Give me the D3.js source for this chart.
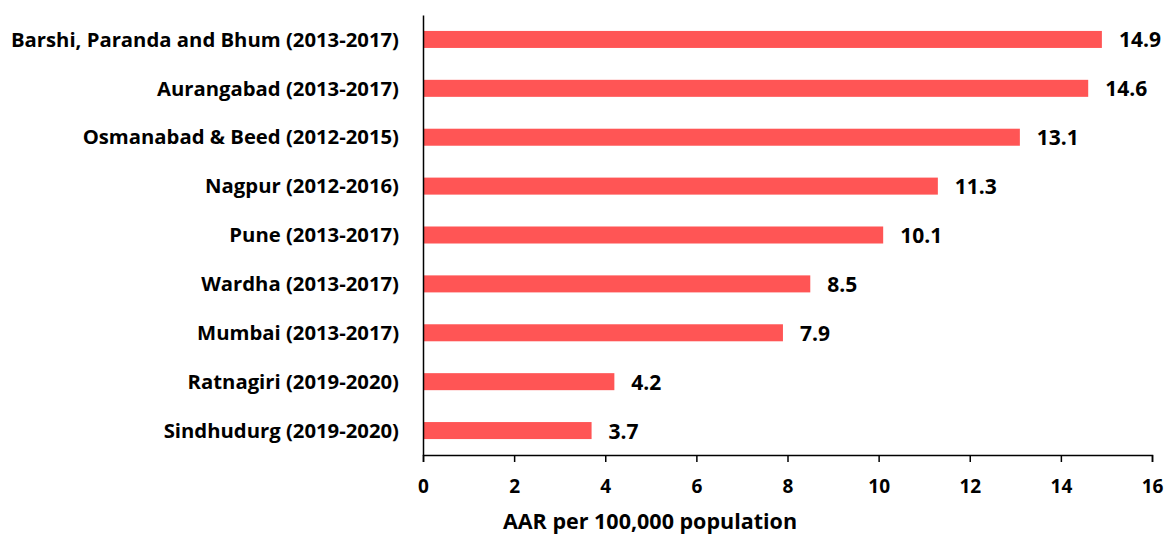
<!DOCTYPE html>
<html><head><meta charset="utf-8">
<script src="https://cdn.jsdelivr.net/npm/d3@7"></script>
<style>body{margin:0;background:#fff}svg{display:block}text{font-family:"Open Sans",sans-serif;font-weight:bold;fill:#000}</style>
</head><body><svg id="c" width="1168" height="536"></svg>
<script>
const categories = ["Barshi, Paranda and Bhum (2013-2017)","Aurangabad (2013-2017)","Osmanabad & Beed (2012-2015)","Nagpur (2012-2016)","Pune (2013-2017)","Wardha (2013-2017)","Mumbai (2013-2017)","Ratnagiri (2019-2020)","Sindhudurg (2019-2020)"];
const values = [14.9,14.6,13.1,11.3,10.1,8.5,7.9,4.2,3.7];
const xTicks = [0,2,4,6,8,10,12,14,16];
const axisTitle = "AAR per 100,000 population";
const FONT = '"Open Sans",sans-serif';

const svg = d3.select("#c");
const x = d3.scaleLinear().domain([0,16]).range([423,1152]);
const y = d3.scaleBand().domain(categories).range([15,455]).paddingInner(0.652).paddingOuter(0.326);

svg.selectAll("rect.bar").data(values).join("rect").attr("class","bar")
  .attr("x",x(0)).attr("y",(d,i)=>y(categories[i]))
  .attr("width",d=>x(d)-x(0)).attr("height",y.bandwidth()).attr("fill","#FF5555");

svg.selectAll("text.val").data(values).join("text").attr("class","val")
  .attr("x",d=>x(d)+17).attr("y",(d,i)=>y(categories[i])+y.bandwidth()/2)
  .attr("dy","8px").style("font-size","21px").text(d=>d.toFixed(1));

const xa = svg.append("g").attr("transform","translate(0,455)")
  .call(d3.axisBottom(x).tickValues(xTicks).tickSize(7).tickFormat(d3.format("d")));
xa.select(".domain").attr("stroke","#000").attr("stroke-width",1.5);
xa.selectAll(".tick line").attr("stroke","#000").attr("stroke-width",1.5);
xa.selectAll(".tick text").attr("y",38).attr("dy",0).style("font-size","19px").style("font-family",FONT).style("font-weight","bold");

const ya = svg.append("g").attr("transform","translate(423,0)")
  .call(d3.axisLeft(y).tickSize(0).tickPadding(24));
ya.select(".domain").attr("stroke","#000").attr("stroke-width",1.5);
ya.selectAll(".tick text").attr("dy","7.2px").style("font-size","20.3px").style("font-family",FONT).style("font-weight","bold");

svg.append("text").attr("x",650).attr("y",529).attr("text-anchor","middle")
  .style("font-size","21.5px").text(axisTitle);
</script></body></html>
